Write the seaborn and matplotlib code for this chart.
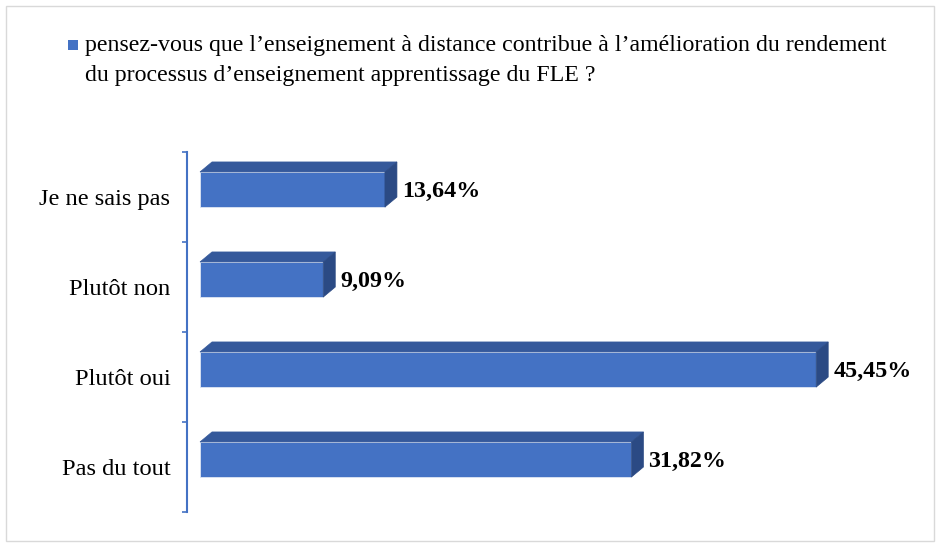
import numpy as np
import pandas as pd
import matplotlib
matplotlib.use('Agg')
import matplotlib.pyplot as plt
import seaborn as sns
from matplotlib.patches import Polygon, Rectangle

categories = ['Je ne sais pas', 'Plutôt non', 'Plutôt oui', 'Pas du tout']
values = [13.64, 9.09, 45.45, 31.82]
value_labels = ['13,64%', '9,09%', '45,45%', '31,82%']
legend_label = ("pensez-vous que l\u2019enseignement à distance contribue à l\u2019amélioration du rendement\n"
                "du processus d\u2019enseignement apprentissage du FLE ?")

sns.set_style('white')
plt.rcParams['font.family'] = ['Liberation Serif', 'DejaVu Serif']
plt.rcParams['text.color'] = 'black'
plt.rcParams['ytick.labelcolor'] = 'black'

front = '#4472C4'
top_col = '#35599B'
side_col = '#2B4A84'

W, H = 936, 543
fig = plt.figure(figsize=(W / 100, H / 100), dpi=100)
ax = fig.add_axes([187 / W, 31 / H, (905 - 187) / W, 360 / H])

df = pd.DataFrame({'cat': categories, 'val': values})
sns.barplot(data=df, x='val', y='cat', orient='h', color=front, width=0.39,
            saturation=1, ax=ax, edgecolor='#dfe6f3', linewidth=0.6)

ax.set_xlim(-0.96, 52)
ax.set_ylim(3.5, -0.5)

# depth of the 3D look, in data units from pixel offsets
px_x = (52 + 0.96) / (905 - 187)
px_y = 4.0 / 360
dx, dy = 12 * px_x, -10 * px_y
shift = -7.5 * px_y

for p, lab in zip(ax.patches, value_labels):
    p.set_y(p.get_y() + shift)
    x0, y0 = p.get_x(), p.get_y()
    x1, y1 = x0 + p.get_width(), y0 + p.get_height()
    topf = Polygon([(x0, y0), (x1, y0), (x1 + dx, y0 + dy), (x0 + dx, y0 + dy)],
                   closed=True, facecolor=top_col, edgecolor=top_col, lw=0.5)
    sidef = Polygon([(x1, y0), (x1 + dx, y0 + dy), (x1 + dx, y1 + dy), (x1, y1)],
                    closed=True, facecolor=side_col, edgecolor=side_col, lw=0.5)
    ax.add_patch(topf)
    ax.add_patch(sidef)
    ax.text(x1 + dx + 5 * px_x, (y0 + y1) / 2 + 2 * px_y, lab, va='center', ha='left',
            fontsize=17.3, fontweight='bold', color='black')

for s in ['top', 'right', 'bottom']:
    ax.spines[s].set_visible(False)
ax.spines['left'].set_color(front)
ax.spines['left'].set_linewidth(1.5)

ax.set_xticks([])
ax.set_xlabel('')
ax.set_ylabel('')
ax.set_yticks(range(len(categories)))
ax.set_yticklabels(categories, fontsize=17.6, color='black')
ax.set_yticks(np.arange(-0.5, len(categories)), minor=True)
ax.tick_params(axis='y', which='major', length=0, pad=12)
ax.tick_params(axis='y', which='minor', length=3.5, width=1.2, color=front, left=True)

# legend
fig.patches.append(Rectangle((68 / W, 1 - 50 / H), 10 / W, 10 / H, transform=fig.transFigure,
                             facecolor=front, edgecolor='none'))
fig.text(85 / W, 1 - 35 / H, legend_label, ha='left', va='top', fontsize=17.2, linespacing=1.55,
         color='black')

# chart border
fig.patches.append(Rectangle((6 / W, 2 / H), (W - 8) / W, (H - 8) / H, transform=fig.transFigure,
                             facecolor='none', edgecolor='#d9d9d9', lw=1))

fig.savefig('out.png', dpi=100)
